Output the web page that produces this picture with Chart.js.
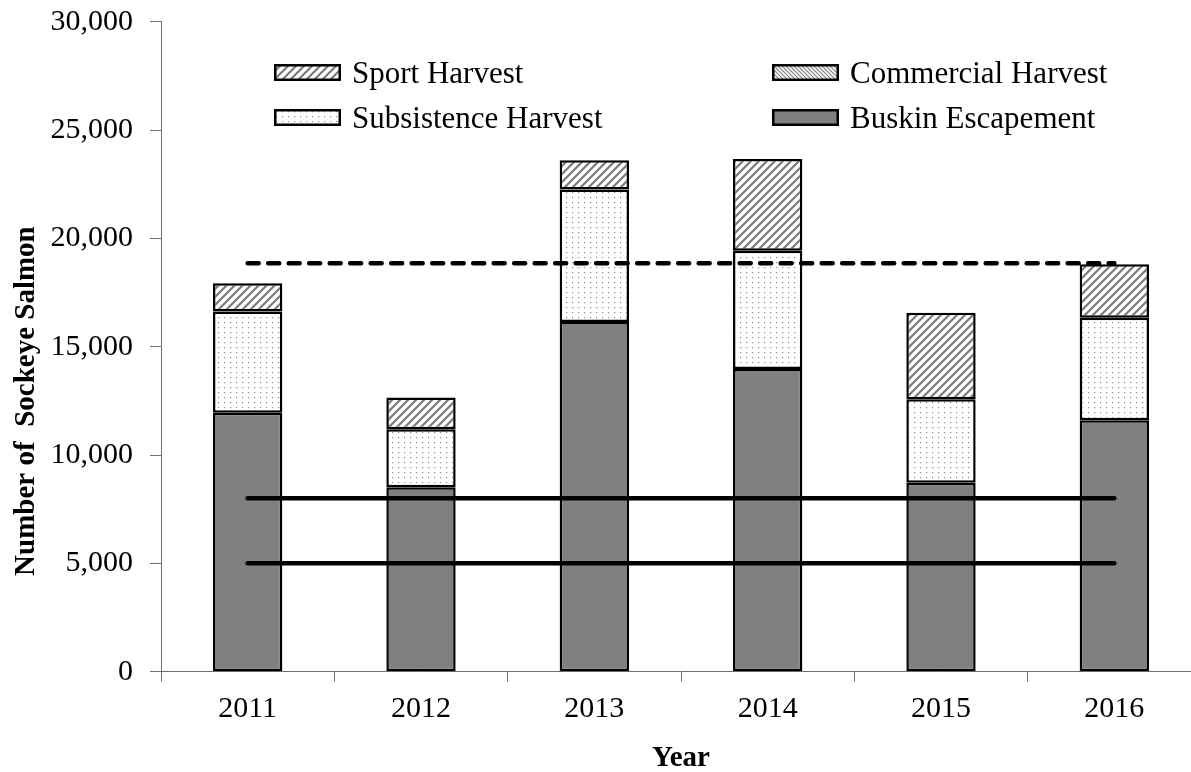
<!DOCTYPE html>
<html>
<head>
<meta charset="utf-8">
<script src="https://cdn.jsdelivr.net/npm/chart.js@4.4.1/dist/chart.umd.min.js"></script>
<style>
html, body { margin: 0; padding: 0; background: #fff; overflow: hidden; width: 1191px; height: 772px; }
#wrap { position: relative; width: 1201px; height: 772px; }
#c { display: block; }
#legend { position: absolute; left: 274px; top: 50px; font-family: "Liberation Serif", "Times New Roman", serif; font-size: 31px; color: #000; }
#legend .row { display: flex; height: 45px; align-items: center; }
#legend .item { display: flex; align-items: center; width: 498px; white-space: nowrap; }
#legend .item canvas { display: block; margin-right: 11px; }
</style>
</head>
<body>
<div id="wrap">
  <canvas id="c" width="1201" height="772"></canvas>
  <div id="legend"></div>
</div>
<script>
// ---- data ----
const years = ['2011', '2012', '2013', '2014', '2015', '2016'];
const buskinEscapement   = [11950, 8510, 16140, 13970, 8720, 11600];
const subsistenceHarvest = [4680, 2680, 6120, 5460, 3850, 4740];
const commercialHarvest  = [0, 0, 0, 0, 0, 0];
const sportHarvest       = [1300, 1470, 1340, 4230, 4000, 2460];
const dashedReference    = [18850, 18850, 18850, 18850, 18850, 18850];
const upperGoal          = [8000, 8000, 8000, 8000, 8000, 8000];
const lowerGoal          = [5000, 5000, 5000, 5000, 5000, 5000];
const legendOrder = ['Sport Harvest', 'Commercial Harvest', 'Subsistence Harvest', 'Buskin Escapement'];
const yTicks = [0, 5000, 10000, 15000, 20000, 25000, 30000];

const FONT = '"Liberation Serif", "Times New Roman", serif';

function makePattern(kind) {
  const c = document.createElement('canvas');
  const g = c.getContext('2d');
  if (kind === 'fwd') {
    c.width = 8; c.height = 8;
    g.fillStyle = '#fff'; g.fillRect(0, 0, 8, 8);
    g.strokeStyle = '#7a7a7a'; g.lineWidth = 2.2;
    g.beginPath();
    g.moveTo(-1, 9); g.lineTo(9, -1);
    g.moveTo(-2, 2); g.lineTo(2, -2);
    g.moveTo(6, 10); g.lineTo(10, 6);
    g.stroke();
  } else if (kind === 'back') {
    c.width = 4; c.height = 4;
    g.fillStyle = '#fff'; g.fillRect(0, 0, 4, 4);
    g.strokeStyle = '#808080'; g.lineWidth = 1.2;
    g.beginPath();
    g.moveTo(-1, -1); g.lineTo(5, 5);
    g.moveTo(-1, 3); g.lineTo(1, 5);
    g.moveTo(3, -1); g.lineTo(5, 1);
    g.stroke();
  } else {
    c.width = 6; c.height = 5;
    g.fillStyle = '#fff'; g.fillRect(0, 0, 6, 5);
    g.fillStyle = '#8c8c8c'; g.fillRect(2, 2, 1.2, 1.2);
  }
  return g.createPattern(c, 'repeat');
}

const patSport = makePattern('fwd');
const patCommercial = makePattern('back');
const patSubsistence = makePattern('dots');

function lineDs(label, data, dashed, stack) {
  return {
    type: 'line', label: label, data: data, stack: stack, order: 0,
    borderColor: '#000', borderWidth: 4.5, borderCapStyle: 'round',
    borderDash: dashed ? [11, 9.5] : [], pointRadius: 0, pointHoverRadius: 0,
    fill: false, tension: 0
  };
}

const chart = new Chart(document.getElementById('c'), {
  type: 'bar',
  data: {
    labels: years,
    datasets: [
      lineDs('Reference', dashedReference, true, 'l1'),
      lineDs('Upper goal', upperGoal, false, 'l2'),
      lineDs('Lower goal', lowerGoal, false, 'l3'),
      { label: 'Buskin Escapement', data: buskinEscapement, backgroundColor: '#808080', stack: 'bars', order: 1 },
      { label: 'Subsistence Harvest', data: subsistenceHarvest, backgroundColor: patSubsistence, stack: 'bars', order: 1 },
      { label: 'Commercial Harvest', data: commercialHarvest, backgroundColor: patCommercial, stack: 'bars', order: 1 },
      { label: 'Sport Harvest', data: sportHarvest, backgroundColor: patSport, stack: 'bars', order: 1 }
    ]
  },
  options: {
    responsive: false,
    animation: false,
    devicePixelRatio: 1,
    layout: { padding: { top: 21.7, left: 0, right: 0, bottom: 0 } },
    datasets: {
      bar: { borderColor: '#000', borderWidth: 2.5, borderSkipped: false, categoryPercentage: 1, barPercentage: 0.4 }
    },
    plugins: { legend: { display: false }, tooltip: { enabled: false } },
    scales: {
      x: {
        stacked: true,
        grid: { display: true, drawOnChartArea: false, drawTicks: true, tickLength: 10, color: '#707070', offset: true },
        border: { color: '#707070', width: 1 },
        ticks: { font: { family: FONT, size: 30 }, color: '#000', padding: 9 },
        title: { display: true, text: 'Year', color: '#000', font: { family: FONT, size: 29, weight: 'bold', lineHeight: 0.93 }, padding: { top: 0, bottom: 0 } },
        afterFit(s) { s.height = 100.3; }
      },
      y: {
        stacked: true, min: 0, max: 30000,
        afterBuildTicks(s) { s.ticks = yTicks.map(v => ({ value: v })); },
        ticks: { font: { family: FONT, size: 30 }, color: '#000', padding: 17, callback: v => Number(v).toLocaleString('en-US') },
        grid: { display: true, drawOnChartArea: false, drawTicks: true, tickLength: 11, color: '#707070' },
        border: { color: '#707070', width: 1 },
        title: { display: true, text: 'Number of  Sockeye Salmon' + '\u00A0'.repeat(15), color: '#000', font: { family: FONT, size: 29, weight: 'bold' }, padding: { top: 9, bottom: 0 } },
        afterFit(s) { s.width = 161; s.paddingTop = 0; s.paddingBottom = 0; }
      }
    }
  }
});

// HTML legend built from the chart's datasets
(function buildLegend() {
  const el = document.getElementById('legend');
  const byLabel = {};
  chart.data.datasets.forEach(d => { byLabel[d.label] = d; });
  for (let r = 0; r < 2; r++) {
    const row = document.createElement('div');
    row.className = 'row';
    for (let k = 0; k < 2; k++) {
      const name = legendOrder[r * 2 + k];
      const ds = byLabel[name];
      const item = document.createElement('div');
      item.className = 'item';
      const sw = document.createElement('canvas');
      sw.width = 67; sw.height = 17;
      const g = sw.getContext('2d');
      g.fillStyle = ds.backgroundColor; g.fillRect(0, 0, 67, 17);
      g.strokeStyle = '#000'; g.lineWidth = 2.5; g.strokeRect(1.25, 1.25, 64.5, 14.5);
      const t = document.createElement('span');
      t.textContent = name;
      item.appendChild(sw); item.appendChild(t);
      row.appendChild(item);
    }
    el.appendChild(row);
  }
})();
</script>
</body>
</html>
